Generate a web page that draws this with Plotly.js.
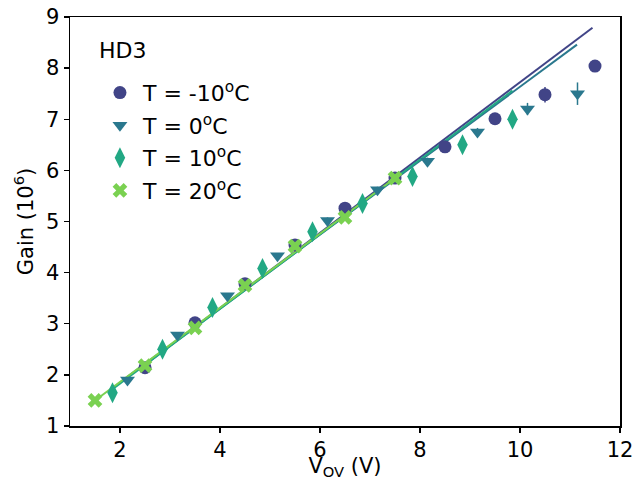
<!DOCTYPE html>
<html>
<head>
<meta charset="utf-8">
<script src="https://cdn.plot.ly/plotly-3.0.1.min.js"></script>
<style>html,body{margin:0;padding:0;background:#fff;}#chart{width:633px;height:480px;}</style>
</head>
<body>
<div id="chart"></div>
<script>
// Data
const seriesNames = ["T = -10<sup>o</sup>C", "T = 0<sup>o</sup>C", "T = 10<sup>o</sup>C", "T = 20<sup>o</sup>C"];
const colors = ["#414487", "#2a788e", "#22a884", "#7ad151"];
const symbols = ["circle", "triangle-down", "diamond-tall", "x"];
const legendTitle = "HD3";

const xM10 = [2.5, 3.5, 4.5, 5.5, 6.5, 7.5, 8.5, 9.5, 10.5, 11.5];
const yM10 = [2.14, 3.02, 3.78, 4.54, 5.26, 5.85, 6.46, 7.01, 7.48, 8.04];
const eM10 = [0.03, 0.04, 0.05, 0.05, 0.06, 0.06, 0.07, 0.08, 0.15, 0.08];

const x0 = [2.15, 3.15, 4.15, 5.15, 6.15, 7.15, 8.15, 9.15, 10.15, 11.15];
const y0 = [1.9, 2.78, 3.55, 4.33, 5.02, 5.62, 6.18, 6.75, 7.2, 7.5];
const e0 = [0.03, 0.04, 0.05, 0.05, 0.06, 0.06, 0.07, 0.08, 0.12, 0.22];

const x10 = [1.85, 2.85, 3.85, 4.85, 5.85, 6.85, 7.85, 8.85, 9.85];
const y10 = [1.65, 2.5, 3.32, 4.08, 4.8, 5.35, 5.88, 6.5, 7.0];
const e10 = [0.03, 0.04, 0.05, 0.05, 0.06, 0.06, 0.07, 0.08, 0.09];

const x20 = [1.5, 2.5, 3.5, 4.5, 5.5, 6.5, 7.5];
const y20 = [1.5, 2.18, 2.92, 3.75, 4.52, 5.08, 5.85];
const e20 = [0.03, 0.04, 0.05, 0.05, 0.06, 0.06, 0.07];

// Linear fit lines (endpoints)
const fitXM10 = [2.5, 11.45], fitYM10 = [2.2, 8.79];
const fitX0 = [2.15, 11.14], fitY0 = [1.96, 8.46];
const fitX10 = [1.85, 9.85], fitY10 = [1.72, 7.56];
const fitX20 = [1.5, 7.5], fitY20 = [1.5, 5.85];

const pts = [[xM10, yM10, eM10], [x0, y0, e0], [x10, y10, e10], [x20, y20, e20]];
const fits = [[fitXM10, fitYM10], [fitX0, fitY0], [fitX10, fitY10], [fitX20, fitY20]];

const traces = [];
fits.forEach((f, i) => {
  traces.push({
    x: f[0], y: f[1], mode: "lines", type: "scatter",
    line: {color: colors[i], width: 2}, showlegend: false, hoverinfo: "skip"
  });
});
pts.forEach((p, i) => {
  traces.push({
    x: p[0], y: p[1], mode: "markers", type: "scatter", name: seriesNames[i],
    legendgroup: "g" + i,
    marker: {color: colors[i], symbol: symbols[i], size: symbols[i] === "diamond-tall" ? 15 : 13, line: {width: 0}},
    error_y: {type: "data", array: p[2], visible: true, color: colors[i], thickness: 1.5, width: 0}
  });
});

const axisCommon = {
  showgrid: false, zeroline: false, showline: true, linecolor: "#000", linewidth: 1.5,
  mirror: true, ticks: "outside", ticklen: 5, tickwidth: 1.3, tickcolor: "#000",
  ticklabeloverflow: "allow",
  tickfont: {size: 21, color: "#000", family: "DejaVu Sans"}
};

const layout = {
  width: 633, height: 480,
  margin: {l: 70, r: 13, t: 17, b: 54},
  paper_bgcolor: "#fff", plot_bgcolor: "#fff",
  font: {family: "DejaVu Sans", color: "#000", size: 21},
  xaxis: Object.assign({}, axisCommon, {range: [1, 12], dtick: 2, tick0: 0,
    ticklabelstandoff: -1,
    title: {text: "V<sub>OV</sub> (V)", font: {size: 21}, standoff: 0}}),
  yaxis: Object.assign({}, axisCommon, {range: [1, 9], dtick: 1,
    title: {text: "Gain (10<sup>6</sup>)", font: {size: 21}, standoff: 6}}),
  legend: {
    x: 0.049, y: 0.866, xanchor: "left", yanchor: "top",
    bgcolor: "rgba(0,0,0,0)", borderwidth: 0,
    font: {size: 22}, tracegroupgap: 1, itemwidth: 36
  },
  annotations: [{
    text: legendTitle, xref: "paper", yref: "paper", x: 0.049, y: 0.919,
    xanchor: "left", yanchor: "middle", showarrow: false, font: {size: 22}
  }]
};

Plotly.newPlot("chart", traces, layout, {displayModeBar: false, staticPlot: true});
</script>
</body>
</html>
